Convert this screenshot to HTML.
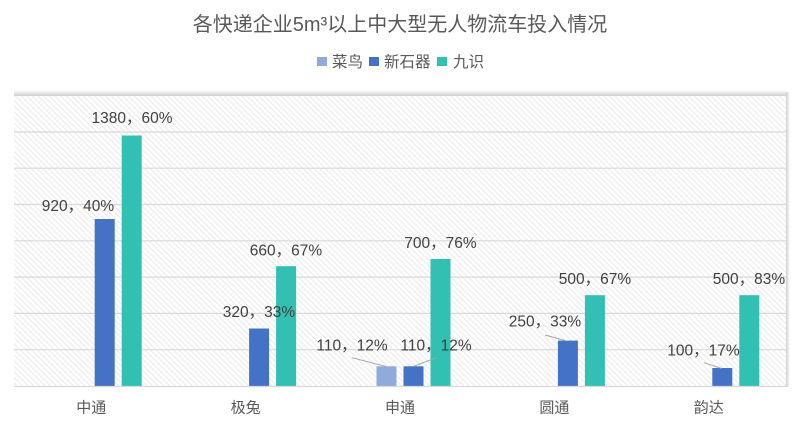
<!DOCTYPE html>
<html>
<head>
<meta charset="utf-8">
<style>
html,body{margin:0;padding:0;background:#fff;}
svg{display:block;}
text{font-family:"Liberation Sans","Noto Sans CJK SC",sans-serif;}
</style>
</head>
<body>
<svg width="800" height="430" viewBox="0 0 800 430" xmlns="http://www.w3.org/2000/svg">
  <defs>
    <pattern id="hatch" width="4" height="4" patternUnits="userSpaceOnUse" patternTransform="rotate(45)">
      <rect width="4" height="4" fill="#ffffff"/>
      <line x1="0" y1="1" x2="4" y2="1" stroke="#ececec" stroke-width="1.2"/>
    </pattern>
    <linearGradient id="topShadow" x1="0" y1="0" x2="0" y2="1">
      <stop offset="0" stop-color="#ffffff"/>
      <stop offset="1" stop-color="#cfcfcf"/>
    </linearGradient>
    <linearGradient id="rightShadow" x1="0" y1="0" x2="1" y2="0">
      <stop offset="0" stop-color="#cfcfcf"/>
      <stop offset="1" stop-color="#ffffff"/>
    </linearGradient>
  </defs>

  <!-- Title -->
  <text x="400" y="31" text-anchor="middle" font-size="20" fill="#595959">各快递企业5m³以上中大型无人物流车投入情况</text>

  <!-- Legend -->
  <rect x="317" y="57" width="10" height="9" fill="#8FAADC"/>
  <text x="332" y="67" font-size="15.5" fill="#595959">菜鸟</text>
  <rect x="369" y="57" width="10" height="9" fill="#4472C4"/>
  <text x="384" y="67" font-size="15.5" fill="#595959">新石器</text>
  <rect x="437" y="57" width="10" height="9" fill="#31C0B2"/>
  <text x="453" y="67" font-size="15.5" fill="#595959">九识</text>

  <!-- Plot area -->
  <rect x="14" y="90" width="772" height="6" fill="url(#topShadow)"/>
  <rect x="786" y="92" width="4" height="295" fill="url(#rightShadow)"/>
  <rect x="14" y="96" width="772" height="290" fill="url(#hatch)"/>

  <!-- Gridlines -->
  <g stroke="#d9d9d9" stroke-width="1.2">
    <line x1="14" y1="132" x2="786" y2="132"/>
    <line x1="14" y1="168.2" x2="786" y2="168.2"/>
    <line x1="14" y1="204.5" x2="786" y2="204.5"/>
    <line x1="14" y1="240.8" x2="786" y2="240.8"/>
    <line x1="14" y1="277.1" x2="786" y2="277.1"/>
    <line x1="14" y1="313.4" x2="786" y2="313.4"/>
    <line x1="14" y1="349.7" x2="786" y2="349.7"/>
  </g>

  <!-- Bars -->
  <rect x="94.7" y="219" width="20" height="167" fill="#4472C4"/>
  <rect x="121.7" y="135.5" width="20" height="250.5" fill="#31C0B2"/>
  <rect x="249.1" y="328.5" width="20" height="57.5" fill="#4472C4"/>
  <rect x="276.1" y="266.2" width="20" height="119.8" fill="#31C0B2"/>
  <rect x="376.5" y="366.3" width="20" height="19.7" fill="#8FAADC"/>
  <rect x="403.5" y="366.3" width="20" height="19.7" fill="#4472C4"/>
  <rect x="430.5" y="259" width="20" height="127" fill="#31C0B2"/>
  <rect x="557.9" y="340.6" width="20" height="45.4" fill="#4472C4"/>
  <rect x="584.9" y="295.2" width="20" height="90.8" fill="#31C0B2"/>
  <rect x="712.3" y="368" width="20" height="18" fill="#4472C4"/>
  <rect x="739.3" y="295.2" width="20" height="90.8" fill="#31C0B2"/>

  <!-- Axis line -->
  <line x1="14" y1="386.5" x2="786" y2="386.5" stroke="#d9d9d9" stroke-width="1.3"/>

  <!-- Leader lines -->
  <g stroke="#a6a6a6" stroke-width="1">
    <line x1="352" y1="357.7" x2="386" y2="366.5"/>
    <line x1="436" y1="357.7" x2="413.3" y2="366.5"/>
    <line x1="545" y1="335" x2="566.7" y2="341"/>
    <line x1="704" y1="362.7" x2="721.7" y2="368.5"/>
  </g>

  <!-- Data labels -->
  <g font-size="15.5" fill="#404040" text-anchor="middle">
    <text x="132" y="123">1380，60%</text>
    <text x="78" y="211">920，40%</text>
    <text x="286" y="255.5">660，67%</text>
    <text x="259" y="317">320，33%</text>
    <text x="440.5" y="248">700，76%</text>
    <text x="352" y="350.5">110，12%</text>
    <text x="436" y="350.5">110，12%</text>
    <text x="595" y="284">500，67%</text>
    <text x="545" y="326.5">250，33%</text>
    <text x="749" y="284">500，83%</text>
    <text x="703.5" y="355.5">100，17%</text>
  </g>

  <!-- Category labels -->
  <g font-size="15" fill="#595959" text-anchor="middle">
    <text x="91.2" y="412.5">中通</text>
    <text x="245.6" y="412.5">极兔</text>
    <text x="400" y="412.5">申通</text>
    <text x="554.4" y="412.5">圆通</text>
    <text x="708.8" y="412.5">韵达</text>
  </g>
</svg>
</body>
</html>
